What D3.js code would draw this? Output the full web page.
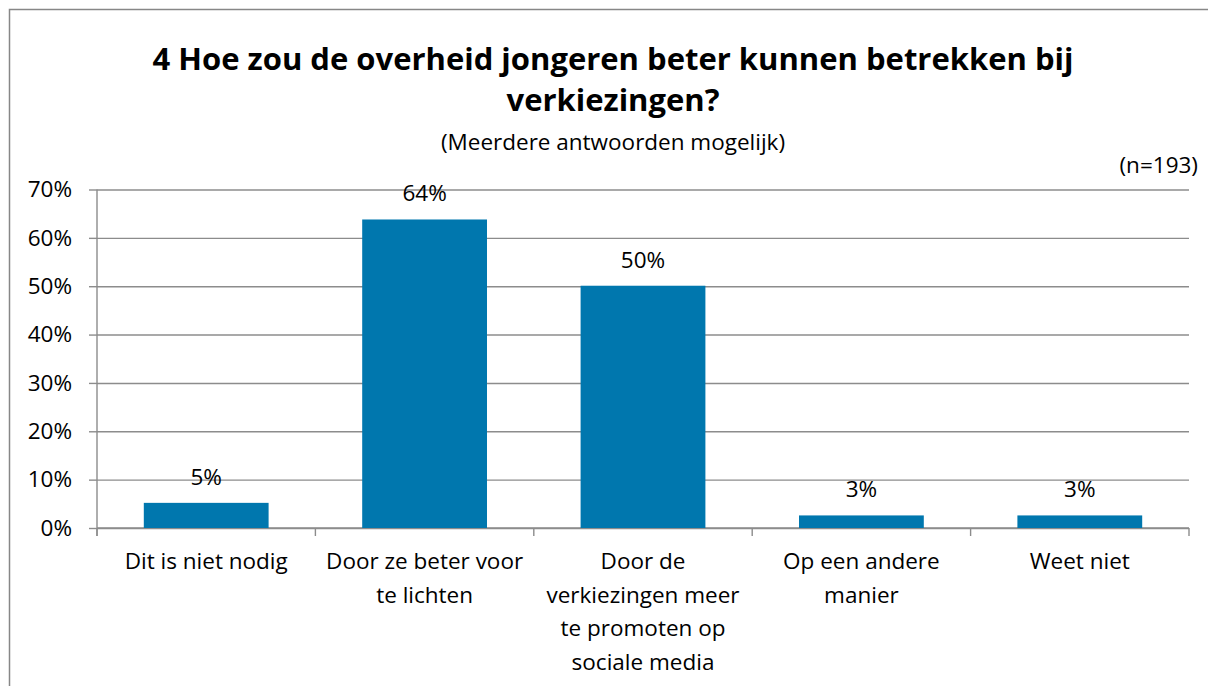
<!DOCTYPE html>
<html>
<head>
<meta charset="utf-8">
<script src="https://cdn.jsdelivr.net/npm/d3@7/dist/d3.min.js"></script>
<style>
  body { margin: 0; background: #fff; }
  text { font-family: "Open Sans", "Noto Sans", sans-serif; fill: #000; }
</style>
</head>
<body>
<div id="chartArea"></div>
<script>
// chart data
var categories = [
    "Dit is niet nodig",
    "Door ze beter voor\nte lichten",
    "Door de\nverkiezingen meer\nte promoten op\nsociale media",
    "Op een andere\nmanier",
    "Weet niet"
];
var values = [5.2, 63.8, 50.1, 2.6, 2.6];
var valueLabels = ["5%", "64%", "50%", "3%", "3%"];
var yTicks = [0, 10, 20, 30, 40, 50, 60, 70];

var titleLines = ["4 Hoe zou de overheid jongeren beter kunnen betrekken bij", "verkiezingen?"];
var subTitle = "(Meerdere antwoorden mogelijk)";
var nLabel = "(n=193)";

var W = 1208, H = 686;
var labelFont = "22.5px";
var svg = d3.select("#chartArea").append("svg")
    .attr("width", W).attr("height", H);

// chart border
svg.append("rect")
    .attr("x", 9.5).attr("y", 9.5)
    .attr("width", 1220).attr("height", 700)
    .attr("fill", "#fff")
    .attr("stroke", "#878787").attr("stroke-width", 1.5);

var margin = { top: 189.5, right: 19, bottom: 158, left: 97 };
var width = W - margin.left - margin.right,
    height = H - margin.top - margin.bottom;

var g = svg.append("g")
    .attr("transform", "translate(" + margin.left + "," + margin.top + ")");

var x = d3.scaleBand().domain(categories).range([0, width])
    .paddingInner(0.75 / 1.75).paddingOuter(0.75 / 3.5);
var y = d3.scaleLinear().domain([0, 70]).range([height, 0]);

// titles
svg.selectAll(".title").data(titleLines).enter().append("text")
    .attr("class", "title")
    .attr("x", 613)
    .attr("y", function (d, i) { return 70 + i * 41; })
    .style("text-anchor", "middle")
    .style("font-size", "31px")
    .style("font-weight", "bold")
    .text(function (d) { return d; });

svg.append("text")
    .attr("x", 613).attr("y", 150)
    .style("text-anchor", "middle")
    .style("font-size", labelFont)
    .text(subTitle);

svg.append("text")
    .attr("x", 1198).attr("y", 173)
    .style("text-anchor", "end")
    .style("font-size", labelFont)
    .text(nLabel);

// gridlines
g.append("g").attr("class", "grid")
    .call(d3.axisLeft(y).tickValues(yTicks).tickSize(-width).tickFormat(""))
    .call(function (s) {
        s.select(".domain").remove();
        s.selectAll("line").attr("stroke", "#8c8c8c").attr("stroke-width", 1.4);
    });

// y axis
g.append("g").attr("class", "axis axis--y")
    .call(d3.axisLeft(y).tickValues(yTicks).tickSize(8).tickSizeOuter(0)
        .tickPadding(17).tickFormat(function (d) { return d + "%"; }))
    .call(function (s) {
        s.select(".domain").attr("stroke", "#8c8c8c").attr("stroke-width", 1.4)
            .attr("d", "M0," + (height + 8) + "V0");
        s.selectAll("line").attr("stroke", "#8c8c8c").attr("stroke-width", 1.4);
        s.selectAll("text").style("font-size", labelFont).attr("fill", "#000");
    });

// x axis with ticks between categories
var bounds = d3.range(categories.length + 1).map(function (i) { return i * width / categories.length; });
var xAxis = g.append("g").attr("class", "axis axis--x")
    .attr("transform", "translate(0," + height + ")");
xAxis.append("line")
    .attr("x1", 0).attr("x2", width)
    .attr("stroke", "#8c8c8c").attr("stroke-width", 1.4);
xAxis.selectAll(".tick").data(bounds).enter().append("line")
    .attr("class", "tick")
    .attr("x1", function (d) { return d; }).attr("x2", function (d) { return d; })
    .attr("y1", 0).attr("y2", 8)
    .attr("stroke", "#8c8c8c").attr("stroke-width", 1.4);

xAxis.selectAll(".cat").data(categories).enter().append("text")
    .attr("class", "cat")
    .attr("transform", function (d) { return "translate(" + (x(d) + x.bandwidth() / 2) + ",41)"; })
    .style("text-anchor", "middle")
    .style("font-size", labelFont)
    .each(function (d) {
        var t = d3.select(this);
        d.split("\n").forEach(function (line, i) {
            t.append("tspan").attr("x", 0).attr("y", i * 33.5).text(line);
        });
    });

// bars
g.selectAll(".bar").data(values).enter().append("rect")
    .attr("class", "bar")
    .attr("x", function (d, i) { return x(categories[i]); })
    .attr("y", function (d) { return y(d); })
    .attr("width", x.bandwidth())
    .attr("height", function (d) { return height - y(d); })
    .attr("fill", "#0077ae");

// value labels
g.selectAll(".val").data(values).enter().append("text")
    .attr("class", "val")
    .attr("x", function (d, i) { return x(categories[i]) + x.bandwidth() / 2; })
    .attr("y", function (d) { return y(d) - 18; })
    .style("text-anchor", "middle")
    .style("font-size", labelFont)
    .text(function (d, i) { return valueLabels[i]; });
</script>
</body>
</html>
